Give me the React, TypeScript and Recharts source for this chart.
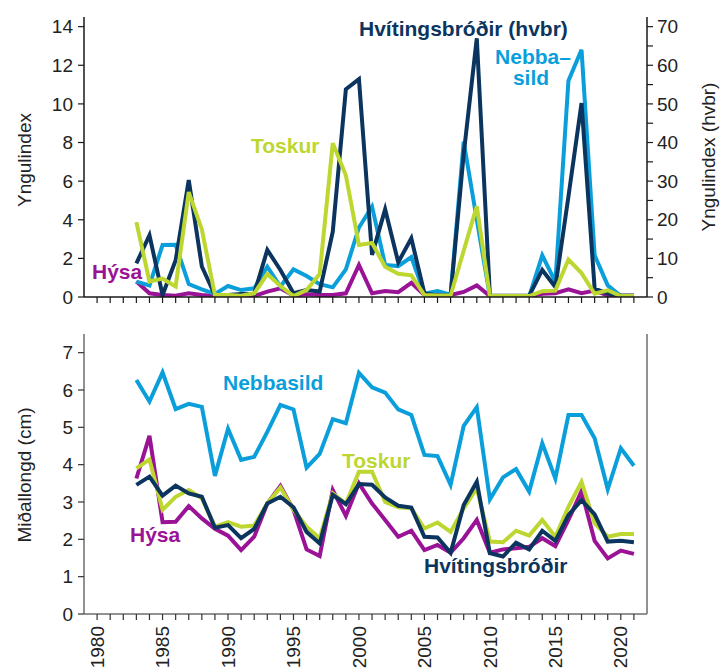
import React from 'react';
import { LineChart, Line, XAxis, YAxis } from 'recharts';

const FONT = '"Liberation Sans", Arial, Helvetica, sans-serif';

const NAVY = '#0b355e';
const CYAN = '#0a9fdb';
const LIME = '#bdd630';
const PURPLE = '#9a1296';

const years = [
  1983, 1984, 1985, 1986, 1987, 1988, 1989, 1990, 1991, 1992,
  1993, 1994, 1995, 1996, 1997, 1998, 1999, 2000, 2001, 2002,
  2003, 2004, 2005, 2006, 2007, 2008, 2009, 2010, 2011, 2012,
  2013, 2014, 2015, 2016, 2017, 2018, 2019, 2020, 2021,
];

const yearTicks = [
  1980, 1981, 1982, 1983, 1984, 1985, 1986, 1987, 1988, 1989,
  1990, 1991, 1992, 1993, 1994, 1995, 1996, 1997, 1998, 1999,
  2000, 2001, 2002, 2003, 2004, 2005, 2006, 2007, 2008, 2009,
  2010, 2011, 2012, 2013, 2014, 2015, 2016, 2017, 2018, 2019,
  2020, 2021,
];

const leftIndexTicks = [0, 2, 4, 6, 8, 10, 12, 14];
const rightIndexTicks = [0, 5, 10, 15, 20, 25, 30, 35, 40, 45, 50, 55, 60, 65, 70];
const lengthTicks = [0, 1, 2, 3, 4, 5, 6, 7];

// Top panel: Yngulindex (Hvítingsbróðir on the right axis)
const idxHvitingsbrodir = [
  8.7, 16, 0.5, 9.5, 30.3, 7.9, 0.5, 0.5, 0.8, 0.8,
  12.2, 7, 1, 1.8, 1.4, 16.9, 53.8, 56.4, 10.9, 22.7,
  9, 15.2, 0.9, 0.4, 0.4, 37, 67, 0.4, 0.3, 0.3,
  0.3, 7, 2.6, 26, 50.2, 2.2, 0.9, 0.4, 0.4,
];
const idxNebbasild = [
  0.8, 0.6, 2.69, 2.7, 0.67, 0.4, 0.16, 0.57, 0.36, 0.45,
  1.57, 0.54, 1.43, 1.09, 0.66, 0.5, 1.43, 3.6, 4.68, 1.66,
  1.6, 2.07, 0.17, 0.31, 0.12, 8.04, 4.0, 0.05, 0.05, 0.02,
  0.02, 2.16, 0.78, 11.2, 12.8, 2.16, 0.6, 0.05, 0.05,
];
const idxToskur = [
  3.88, 0.8, 0.95, 0.55, 5.43, 3.5, 0.1, 0.1, 0.07, 0.19,
  1.19, 0.57, 0.05, 0.36, 1.19, 7.96, 6.3, 2.69, 2.8, 1.57,
  1.2, 1.12, 0.1, 0.08, 0.08, 2.4, 4.7, 0.05, 0.05, 0.05,
  0.05, 0.3, 0.33, 1.94, 1.24, 0.17, 0.35, 0.05, 0.05,
];
const idxHysa = [
  0.8, 0.19, 0.1, 0.07, 0.19, 0.1, 0.05, 0.05, 0.05, 0.05,
  0.28, 0.45, 0.07, 0.14, 0.1, 0.1, 0.19, 1.66, 0.19, 0.31,
  0.25, 0.73, 0.1, 0.1, 0.1, 0.26, 0.6, 0.05, 0.03, 0.03,
  0.03, 0.17, 0.2, 0.4, 0.2, 0.33, 0.08, 0.05, 0.05,
];

// Bottom panel: Miðallongd (cm)
const lenNebbasild = [
  6.27, 5.69, 6.47, 5.49, 5.63, 5.55, 3.7, 4.96, 4.13, 4.21,
  4.88, 5.6, 5.48, 3.92, 4.29, 5.22, 5.11, 6.46, 6.07, 5.93,
  5.48, 5.33, 4.26, 4.23, 3.46, 5.04, 5.54, 3.07, 3.66, 3.88,
  3.28, 4.57, 3.63, 5.33, 5.33, 4.71, 3.34, 4.44, 3.97,
];
const lenToskur = [
  3.9, 4.14, 2.79, 3.14, 3.32, 3.1, 2.34, 2.46, 2.34, 2.37,
  2.96, 3.39, 2.79, 2.34, 2.03, 3.23, 2.96, 3.81, 3.81, 3.0,
  2.86, 2.83, 2.29, 2.45, 2.2, 2.83, 3.37, 1.94, 1.92, 2.23,
  2.1, 2.52, 2.07, 2.87, 3.54, 2.43, 2.07, 2.14, 2.14,
];
const lenHysa = [
  3.63, 4.77, 2.46, 2.47, 2.89, 2.56, 2.28, 2.1, 1.71, 2.07,
  2.96, 3.43, 2.79, 1.73, 1.55, 3.32, 2.63, 3.5, 2.96, 2.52,
  2.07, 2.23, 1.71, 1.85, 1.64, 2.03, 2.52, 1.64, 1.73, 1.76,
  1.8, 2.03, 1.82, 2.52, 3.29, 1.96, 1.49, 1.7, 1.61,
];
const lenHvitingsbrodir = [
  3.46, 3.68, 3.17, 3.44, 3.23, 3.14, 2.31, 2.38, 2.03, 2.28,
  2.96, 3.14, 2.86, 2.2, 1.89, 3.19, 2.94, 3.48, 3.46, 3.12,
  2.9, 2.85, 2.07, 2.05, 1.64, 2.92, 3.54, 1.63, 1.54, 1.91,
  1.73, 2.23, 1.96, 2.65, 3.05, 2.67, 1.94, 1.96, 1.92,
];

const topData = years.map((year, i) => ({
  year,
  hvbr: idxHvitingsbrodir[i],
  nebbasild: idxNebbasild[i],
  toskur: idxToskur[i],
  hysa: idxHysa[i],
}));

const bottomData = years.map((year, i) => ({
  year,
  nebbasild: lenNebbasild[i],
  toskur: lenToskur[i],
  hysa: lenHysa[i],
  hvbr: lenHvitingsbrodir[i],
}));

const TOP_AXIS = '#1a1a1a';
const BOT_AXIS = '#6e6e6e';
const TICK_FONT = { fontSize: 19, fill: '#222', fontFamily: FONT };

const EmptyTick = () => <g />;

const YearTick = (props: any) => {
  const { x, y, payload } = props;
  if (payload.value % 5 !== 0) return <g />;
  return (
    <text
      x={x}
      y={y}
      transform={`rotate(-90 ${x} ${y})`}
      textAnchor="end"
      dy="0.35em"
      fontSize={19}
      fontFamily={FONT}
      fill="#222"
    >
      {payload.value}
    </text>
  );
};

const RightTick = (props: any) => {
  const { x, y, payload } = props;
  if (payload.value % 10 !== 0) return <g />;
  return (
    <text x={x} y={y} textAnchor="start" dy="0.35em" fontSize={19} fontFamily={FONT} fill="#222">
      {payload.value}
    </text>
  );
};

const W = 720;
const LEFT_W = 84;
const RIGHT_W = 73;

export default function App() {
  const lineProps = {
    type: 'linear' as const,
    dot: false,
    activeDot: false,
    strokeWidth: 4,
    isAnimationActive: false,
    xAxisId: 'x',
  };
  return (
    <div style={{ position: 'absolute', left: 0, top: 0, width: 720, height: 669, background: '#fff', overflow: 'hidden' }}>
      <div style={{ position: 'absolute', left: 0, top: 0 }}>
        <LineChart width={W} height={320} data={topData} margin={{ top: 17, right: 0, left: 0, bottom: 0 }}>
          <XAxis
            xAxisId="x"
            dataKey="year"
            type="number"
            domain={[1979, 2022]}
            ticks={yearTicks}
            interval={0}
            allowDataOverflow
            height={23}
            tick={EmptyTick}
            tickSize={6}
            axisLine={{ stroke: TOP_AXIS, strokeWidth: 1.5 }}
            tickLine={{ stroke: TOP_AXIS, strokeWidth: 1.2 }}
          />
          <XAxis
            xAxisId="top"
            orientation="top"
            dataKey="year"
            type="number"
            domain={[1979, 2022]}
            height={0}
            tick={false}
            tickLine={false}
            axisLine={{ stroke: TOP_AXIS, strokeWidth: 1.5 }}
          />
          <YAxis
            yAxisId="l"
            width={LEFT_W}
            domain={[0, 14.5]}
            ticks={leftIndexTicks}
            interval={0}
            allowDataOverflow
            tick={TICK_FONT}
            tickSize={6}
            tickMargin={5}
            axisLine={{ stroke: TOP_AXIS, strokeWidth: 1.5 }}
            tickLine={{ stroke: TOP_AXIS, strokeWidth: 1.2 }}
          />
          <YAxis
            yAxisId="r"
            orientation="right"
            width={RIGHT_W}
            domain={[0, 72.5]}
            ticks={rightIndexTicks}
            interval={0}
            allowDataOverflow
            tick={RightTick}
            tickSize={6}
            tickMargin={4}
            axisLine={{ stroke: TOP_AXIS, strokeWidth: 1.5 }}
            tickLine={{ stroke: TOP_AXIS, strokeWidth: 1.2 }}
          />
          <Line {...lineProps} yAxisId="l" dataKey="hysa" stroke={PURPLE} />
          <Line {...lineProps} yAxisId="l" dataKey="nebbasild" stroke={CYAN} />
          <Line {...lineProps} yAxisId="r" dataKey="hvbr" stroke={NAVY} />
          <Line {...lineProps} yAxisId="l" dataKey="toskur" stroke={LIME} />
        </LineChart>
      </div>
      <div style={{ position: 'absolute', left: 0, top: 320 }}>
        <LineChart width={W} height={349} data={bottomData} margin={{ top: 14, right: 0, left: 0, bottom: 0 }}>
          <XAxis
            xAxisId="x"
            dataKey="year"
            type="number"
            domain={[1979, 2022]}
            ticks={yearTicks}
            interval={0}
            allowDataOverflow
            height={55}
            tick={YearTick}
            tickSize={6}
            tickMargin={6}
            axisLine={{ stroke: BOT_AXIS, strokeWidth: 1.5 }}
            tickLine={{ stroke: '#333', strokeWidth: 1.2 }}
          />
          <XAxis
            xAxisId="top"
            orientation="top"
            dataKey="year"
            type="number"
            domain={[1979, 2022]}
            height={0}
            tick={false}
            tickLine={false}
            axisLine={{ stroke: BOT_AXIS, strokeWidth: 1.5 }}
          />
          <YAxis
            yAxisId="l"
            width={LEFT_W}
            domain={[0, 7.5]}
            ticks={lengthTicks}
            interval={0}
            allowDataOverflow
            tick={TICK_FONT}
            tickSize={6}
            tickMargin={5}
            axisLine={{ stroke: BOT_AXIS, strokeWidth: 1.5 }}
            tickLine={{ stroke: '#333', strokeWidth: 1.2 }}
          />
          <YAxis
            yAxisId="r"
            orientation="right"
            width={RIGHT_W}
            domain={[0, 7.5]}
            tick={false}
            tickLine={false}
            axisLine={{ stroke: BOT_AXIS, strokeWidth: 1.5 }}
          />
          <Line {...lineProps} yAxisId="l" dataKey="nebbasild" stroke={CYAN} />
          <Line {...lineProps} yAxisId="l" dataKey="hysa" stroke={PURPLE} />
          <Line {...lineProps} yAxisId="l" dataKey="toskur" stroke={LIME} />
          <Line {...lineProps} yAxisId="l" dataKey="hvbr" stroke={NAVY} />
        </LineChart>
      </div>
      <svg
        width={720}
        height={669}
        style={{ position: 'absolute', left: 0, top: 0, pointerEvents: 'none' }}
        fontFamily={FONT}
      >
        <text x={24} y={160} transform="rotate(-90 24 160)" textAnchor="middle" dominantBaseline="central" fontSize={19} fill="#222">
          Yngulindex
        </text>
        <text x={708} y={157} transform="rotate(-90 708 157)" textAnchor="middle" dominantBaseline="central" fontSize={19} fill="#222">
          Yngulindex (hvbr)
        </text>
        <text x={24} y={475} transform="rotate(-90 24 475)" textAnchor="middle" dominantBaseline="central" fontSize={19} fill="#222">
          Miðallongd (cm)
        </text>

        <g fontSize={21} fontWeight="bold">
          <text x={359} y={36} fill={NAVY}>Hvítingsbróðir (hvbr)</text>
          <text x={533} y={64} fill={CYAN} textAnchor="middle">Nebba–</text>
          <text x={531} y={85} fill={CYAN} textAnchor="middle">sild</text>
          <text x={251} y={153} fill={LIME}>Toskur</text>
          <text x={92} y={279} fill={PURPLE}>Hýsa</text>

          <text x={223} y={390} fill={CYAN}>Nebbasild</text>
          <text x={342} y={468} fill={LIME}>Toskur</text>
          <text x={130} y={542} fill={PURPLE}>Hýsa</text>
          <text x={424} y={573} fill={NAVY}>Hvítingsbróðir</text>
        </g>
      </svg>
    </div>
  );
}
